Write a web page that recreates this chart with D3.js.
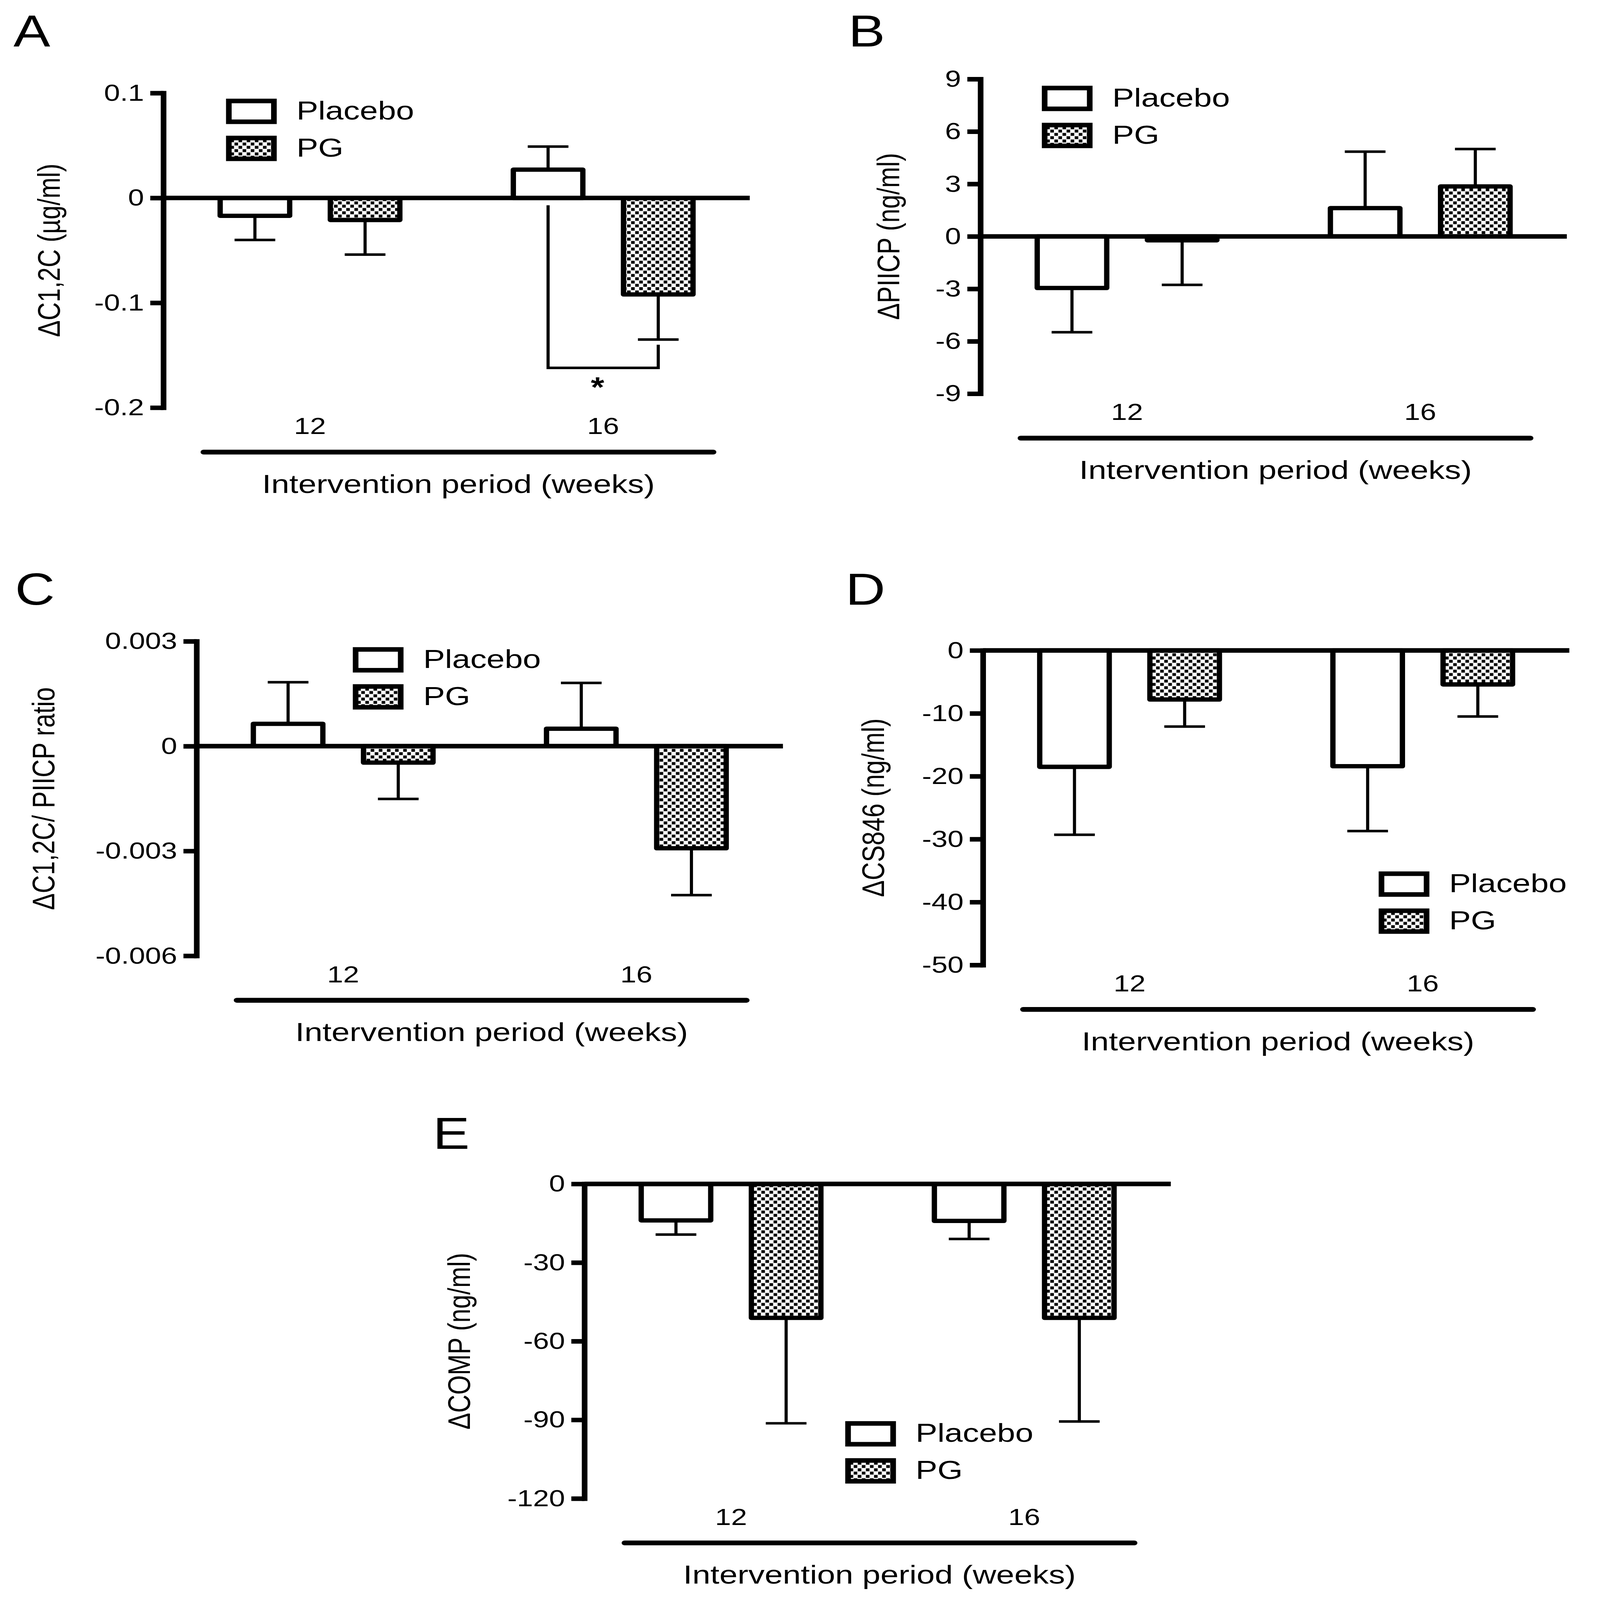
<!DOCTYPE html>
<html>
<head>
<meta charset="utf-8">
<script src="https://cdn.jsdelivr.net/npm/d3@7"></script>
<style>
  html, body { margin: 0; padding: 0; background: #fff; overflow: hidden; }
  svg { display: block; }
</style>
</head>
<body>
<script>
// categories and series
var groups = ["12", "16"];
var seriesNames = ["Placebo", "PG"];

// A - C1,2C (ug/ml), mean and SEM per week
var c2cPlacebo = [-0.017, 0.027];
var c2cPlaceboSem = [0.023, 0.022];
var c2cPG = [-0.021, -0.092];
var c2cPGSem = [0.033, 0.043];
var c2cTicks = [0.1, 0, -0.1, -0.2];
var c2cBracket = [-0.007, -0.162, -0.140]; // left start, bracket level, right start
var c2cStar = -0.179;

// B - PIICP (ng/ml)
var piicpPlacebo = [-2.95, 1.62];
var piicpPlaceboSem = [2.53, 3.23];
var piicpPG = [-0.22, 2.86];
var piicpPGSem = [2.55, 2.14];
var piicpTicks = [9, 6, 3, 0, -3, -6, -9];

// C - C1,2C / PIICP ratio
var ratioPlacebo = [0.00064, 0.0005];
var ratioPlaceboSem = [0.00119, 0.00131];
var ratioPG = [-0.00047, -0.00292];
var ratioPGSem = [0.00104, 0.00134];
var ratioTicks = [0.003, 0, -0.003, -0.006];

// D - CS846 (ng/ml)
var cs846Placebo = [-18.5, -18.4];
var cs846PlaceboSem = [10.8, 10.3];
var cs846PG = [-7.8, -5.4];
var cs846PGSem = [4.3, 5.1];
var cs846Ticks = [0, -10, -20, -30, -40, -50];

// E - COMP (ng/ml)
var compPlacebo = [-13.9, -14.1];
var compPlaceboSem = [5.4, 6.9];
var compPG = [-51.1, -51.1];
var compPGSem = [40.2, 39.5];
var compTicks = [0, -30, -60, -90, -120];

var W = 5111, H = 6307;
var FONT = "'Liberation Sans', Arial, Helvetica, sans-serif";
var PLOT_H = 1240;      // height of y axis
var ZERO_LEN = 1873;    // length of the zero line

// the figure is laid out on a 5111 x 6307 grid and stretched to fill the window
var svg = d3.select("body")
            .append("svg")
            .attr("width", window.innerWidth || W)
            .attr("height", window.innerHeight || H)
            .attr("viewBox", "0 0 " + W + " " + H)
            .attr("preserveAspectRatio", "none")
            .style("background", "#fff");

// checker fill used for PG
var pat = svg.append("defs").append("pattern")
    .attr("id", "checker")
    .attr("patternUnits", "userSpaceOnUse")
    .attr("width", 26)
    .attr("height", 26);
pat.append("rect").attr("width", 26).attr("height", 26).attr("fill", "#fff");
pat.append("rect").attr("x", 1).attr("y", 1).attr("width", 11.5).attr("height", 11.5).attr("fill", "#000");
pat.append("rect").attr("x", 14).attr("y", 14).attr("width", 11.5).attr("height", 11.5).attr("fill", "#000");

var panels = [
  { letter: "A", lx: 43, ly: 183, x0: 522, yTop: 367, ticks: c2cTicks,
    means: [c2cPlacebo, c2cPG], sems: [c2cPlaceboSem, c2cPGSem],
    yLabel: "\u0394C1,2C (\u00b5g/ml)", yLabelX: 156, legend: [722, 389] },
  { letter: "B", lx: 2710, ly: 183, x0: 3132, yTop: 312, ticks: piicpTicks,
    means: [piicpPlacebo, piicpPG], sems: [piicpPlaceboSem, piicpPGSem],
    yLabel: "\u0394PIICP (ng/ml)", yLabelX: 2838, legend: [3328, 338] },
  { letter: "C", lx: 48, ly: 2383, x0: 628, yTop: 2528, ticks: ratioTicks,
    means: [ratioPlacebo, ratioPG], sems: [ratioPlaceboSem, ratioPGSem],
    yLabel: "\u0394C1,2C/ PIICP ratio", yLabelX: 139, legend: [1127, 2551] },
  { letter: "D", lx: 2701, ly: 2383, x0: 3140, yTop: 2564, ticks: cs846Ticks,
    means: [cs846Placebo, cs846PG], sems: [cs846PlaceboSem, cs846PGSem],
    yLabel: "\u0394CS846 (ng/ml)", yLabelX: 2789, legend: [4404, 3435] },
  { letter: "E", lx: 1383, ly: 4529, x0: 1867, yTop: 4667, ticks: compTicks,
    means: [compPlacebo, compPG], sems: [compPlaceboSem, compPGSem],
    yLabel: "\u0394COMP (ng/ml)", yLabelX: 1467, legend: [2700, 5602] }
];

panels.forEach(function(p) {
  var g = svg.append("g");
  var yBottom = p.yTop + PLOT_H;

  var y = d3.scaleLinear()
            .domain(d3.extent(p.ticks))
            .range([yBottom, p.yTop]);
  var xg = d3.scalePoint()
             .domain(groups)
             .range([p.x0, p.x0 + ZERO_LEN])
             .padding(0.5);
  var xs = d3.scaleBand()
             .domain(seriesNames)
             .range([-287, 287])
             .paddingInner(0.369);

  var rows = [];
  seriesNames.forEach(function(s, si) {
    groups.forEach(function(grp, gi) {
      rows.push({ s: s, grp: grp, v: p.means[si][gi], e: p.sems[si][gi] });
    });
  });
  function cx(d) { return xg(d.grp) + xs(d.s) + xs.bandwidth() / 2; }
  function tip(d) { return d.v < 0 ? d.v - d.e : d.v + d.e; }

  // error bars, one sided
  g.selectAll(".err").data(rows).enter().append("line")
    .attr("x1", cx).attr("x2", cx)
    .attr("y1", function(d) { return y(d.v); })
    .attr("y2", function(d) { return y(tip(d)); })
    .attr("stroke", "#000").attr("stroke-width", 10);
  g.selectAll(".cap").data(rows).enter().append("line")
    .attr("x1", function(d) { return cx(d) - 65; })
    .attr("x2", function(d) { return cx(d) + 65; })
    .attr("y1", function(d) { return y(tip(d)); })
    .attr("y2", function(d) { return y(tip(d)); })
    .attr("stroke", "#000").attr("stroke-width", 10);

  // bars
  g.selectAll(".bar").data(rows).enter().append("rect")
    .attr("x", function(d) { return xg(d.grp) + xs(d.s); })
    .attr("y", function(d) { return y(Math.max(0, d.v)); })
    .attr("width", xs.bandwidth())
    .attr("height", function(d) { return Math.abs(y(d.v) - y(0)); })
    .attr("fill", function(d) { return d.s === "PG" ? "url(#checker)" : "#fff"; })
    .attr("stroke", "#000")
    .attr("stroke-width", 17)
    .attr("stroke-linejoin", "round");

  // zero line
  g.append("line")
    .attr("x1", p.x0).attr("x2", p.x0 + ZERO_LEN)
    .attr("y1", y(0)).attr("y2", y(0))
    .attr("stroke", "#000").attr("stroke-width", 18);

  // y axis
  var ax = g.append("g")
    .attr("transform", "translate(" + p.x0 + ",0)")
    .call(d3.axisLeft(y)
            .tickValues(p.ticks)
            .tickFormat(function(d) { return String(d); })
            .tickSize(42)
            .tickSizeOuter(0)
            .tickPadding(20));
  ax.attr("font-size", 92).attr("font-family", FONT);
  ax.select(".domain").attr("stroke-width", 18).attr("stroke-linecap", "square");
  ax.selectAll(".tick line").attr("stroke-width", 18);
  ax.selectAll(".tick text").attr("fill", "#000");

  // category labels and the long bar under them
  g.selectAll(".cat").data(groups).enter().append("text")
    .attr("x", function(d) { return xg(d); })
    .attr("y", yBottom + 104)
    .attr("text-anchor", "middle")
    .attr("font-family", FONT).attr("font-size", 92)
    .text(function(d) { return d; });

  var lx1 = xg(groups[0]) - 340, lx2 = xg(groups[1]) + 352;
  g.append("line")
    .attr("x1", lx1).attr("x2", lx2)
    .attr("y1", yBottom + 175).attr("y2", yBottom + 175)
    .attr("stroke", "#000").attr("stroke-width", 19).attr("stroke-linecap", "round");

  g.append("text")
    .attr("x", (lx1 + lx2) / 2)
    .attr("y", yBottom + 336)
    .attr("text-anchor", "middle")
    .attr("font-family", FONT).attr("font-size", 104)
    .text("Intervention period (weeks)");

  // y label
  g.append("text")
    .attr("transform", "translate(" + p.yLabelX + "," + (p.yTop + PLOT_H / 2) + ") rotate(-90)")
    .attr("text-anchor", "middle")
    .attr("dy", "0.35em")
    .attr("font-family", FONT).attr("font-size", 99)
    .text(p.yLabel);

  // panel letter
  g.append("text")
    .attr("x", p.lx).attr("y", p.ly)
    .attr("font-family", FONT).attr("font-size", 176)
    .text(p.letter);

  // legend
  var leg = g.selectAll(".leg").data(seriesNames).enter().append("g")
    .attr("transform", function(d, i) { return "translate(" + p.legend[0] + "," + (p.legend[1] + i * 146) + ")"; });
  leg.append("rect")
    .attr("x", 9).attr("y", 9).attr("width", 144).attr("height", 82)
    .attr("fill", function(d) { return d === "PG" ? "url(#checker)" : "#fff"; })
    .attr("stroke", "#000").attr("stroke-width", 18);
  leg.append("text")
    .attr("x", 225).attr("y", 82)
    .attr("font-family", FONT).attr("font-size", 104)
    .text(function(d) { return d; });

  // significance bracket only on A
  if (p.letter === "A") {
    var bx1 = xg("16") + xs("Placebo") + xs.bandwidth() / 2;
    var bx2 = xg("16") + xs("PG") + xs.bandwidth() / 2;
    g.append("path")
      .attr("d", "M" + bx1 + "," + y(c2cBracket[0]) +
                 "V" + y(c2cBracket[1]) +
                 "H" + bx2 +
                 "V" + y(c2cBracket[2]))
      .attr("fill", "none").attr("stroke", "#000").attr("stroke-width", 10);
    g.append("text")
      .attr("x", (bx1 + bx2) / 2 - 18)
      .attr("y", y(c2cStar) + 44)
      .attr("text-anchor", "middle")
      .attr("font-family", FONT).attr("font-size", 110).attr("font-weight", "bold")
      .text("*");
  }
});
</script>
</body>
</html>
